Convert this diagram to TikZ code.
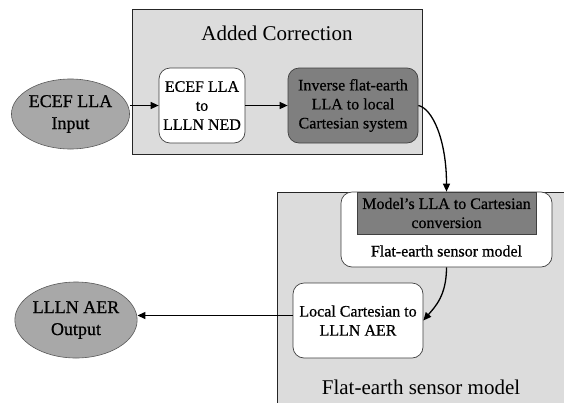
\documentclass[tikz,border=0pt]{standalone}
\usepackage{fontspec}
\setmainfont{Liberation Serif}
\newfontfamily\tnr{Liberation Serif}
\newfontfamily\tnrb{Liberation Serif}[FakeBold=0.6]
\usetikzlibrary{arrows.meta,shapes.geometric}
\definecolor{lgray}{HTML}{DCDCDC}
\definecolor{mgray}{HTML}{A8A8A8}
\definecolor{dgray}{HTML}{7F7F7F}
\begin{document}
\begin{tikzpicture}[x=1pt,y=-1pt,
  arr/.style={line width=1.3pt,-{Triangle[length=8pt,width=7pt]}},
  grp/.style={draw=black!85,line width=0.7pt,fill=lgray,inner sep=0pt},
  bigtxt/.style={font=\tnr\fontsize{21}{24}\selectfont,inner sep=0pt},
  boxtxt/.style={align=center,font=\tnrb\fontsize{16}{19}\selectfont,inner sep=0pt},
  wbox/.style={boxtxt,draw=black!75,line width=0.7pt,fill=white,rounded corners=11pt},
  dbox/.style={boxtxt,draw=black!75,line width=0.7pt,fill=dgray,rounded corners=11pt},
  ell/.style={ellipse,draw=black!65,line width=0.6pt,fill=mgray,align=center,
    font=\tnrb\fontsize{18}{22}\selectfont,inner sep=0pt}
]
\useasboundingbox (0,0) rectangle (564,402);
\fill[white] (0,0) rectangle (564,402);
\clip (0,0) rectangle (564,402);
% groups
\node[grp,minimum width=290pt,minimum height=145pt] (ac) at (277,81.5) {};
\node[bigtxt] (actitle) at (277,33) {Added Correction};
\node[grp,minimum width=323pt,minimum height=248pt] (fe) at (438.5,316) {};
\node[bigtxt] (fetitle) at (421,387) {Flat-earth sensor model};
% nodes
\node[ell,minimum width=113pt,minimum height=70pt] (in) at (70.5,114) {ECEF LLA\\Input};
\node[wbox,minimum width=86pt,minimum height=75pt] (b1) at (202,105.5) {ECEF LLA\\to\\LLLN NED};
\node[dbox,minimum width=130pt,minimum height=75pt] (b2) at (353,105.5) {Inverse flat-earth\\LLA to local\\Cartesian system};
\node[wbox,minimum width=211pt,minimum height=75pt] (wb) at (446.5,229.5) {};
\node[boxtxt,draw=black!75,line width=0.6pt,fill=dgray,minimum width=179pt,minimum height=42pt] (model) at (446.5,213) {Model’s LLA to Cartesian\\conversion};
\node[boxtxt] (wbl) at (446.5,251) {Flat-earth sensor model};
\node[wbox,minimum width=130pt,minimum height=75pt] (loc) at (358,320.5) {Local Cartesian to\\LLLN AER};
\node[ell,minimum width=112pt,minimum height=76pt] (out) at (76,320) {LLLN AER\\Output};
% connectors
\draw[arr] (b1.west -| in.east) -- (b1.west);
\draw[arr] (b1.east) -- (b2.west);
\draw[arr] (b2.east) .. controls +(14,3) and +(0,-52) .. (wb.north);
\draw[arr] (wb.south) .. controls +(0,28) and +(12,-14) .. (loc.east);
\draw[arr] ([yshift=5pt]loc.west) -- ([yshift=5pt]loc.west -| out.east);
\end{tikzpicture}
\end{document}
